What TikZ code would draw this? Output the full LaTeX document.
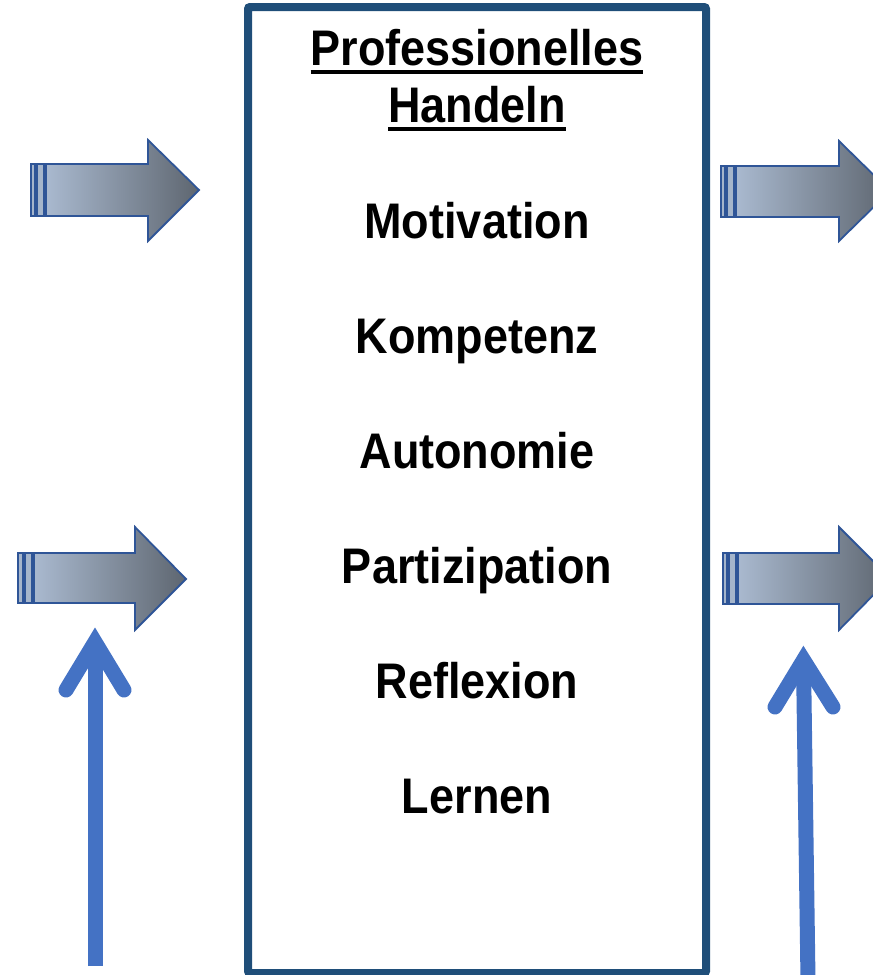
\documentclass[tikz,border=0pt]{standalone}
\usepackage{fontspec}
\newfontfamily\labelfont[FakeStretch=0.9]{Liberation Sans}
\definecolor{boxblue}{HTML}{1F4E79}
\definecolor{arrowblue}{HTML}{2F5597}
\definecolor{upblue}{HTML}{4472C4}
\definecolor{gradlight}{HTML}{A9B9CF}
\definecolor{graddark}{HTML}{5E6670}
\definecolor{stripefill}{HTML}{A5B5CB}
\newcommand\myul[1]{\setbox0\hbox{#1}\rlap{\rule[-9pt]{\wd0}{4pt}}\box0}
\tikzset{
  boxstyle/.style={draw=boxblue, line width=8pt, rounded corners=2pt, inner sep=0pt},
  lbl/.style={font=\labelfont\bfseries\fontsize{50}{57}\selectfont, anchor=base, inner sep=0pt},
  barrow/.style={draw=arrowblue, line width=1.8pt, line join=miter, left color=gradlight, right color=graddark},
  stripe/.style={draw=arrowblue, line width=1.5pt, fill=stripefill},
  upshaft/.style={draw=upblue, line width=15pt},
  uphead/.style={draw=upblue, line width=15pt, line cap=round, line join=miter}
}
\begin{document}
\begin{tikzpicture}[x=1pt,y=-1pt]
\useasboundingbox (0,0) rectangle (873,975);
% main box
\node[boxstyle, minimum width=458pt, minimum height=966pt] (box) at (477,490) {};
% texts
\node[lbl] (t1) at (477,65) {\myul{Professionelles}};
\node[lbl] (t2) at (477,122) {\myul{Handeln}};
\node[lbl] (m1) at (477,238) {Motivation};
\node[lbl] (m2) at (477,353) {Kompetenz};
\node[lbl] (m3) at (477,468) {Autonomie};
\node[lbl] (m4) at (477,583) {Partizipation};
\node[lbl] (m5) at (477,698) {Reflexion};
\node[lbl] (m6) at (477,813) {Lernen};
% block arrow left top
\draw[stripe] (31,164) rectangle (35,216);
\draw[stripe] (37,164) rectangle (44,216);
\draw[barrow] (46,164) -- (148,164) -- (148,140) -- (199,190) -- (148,241) -- (148,216) -- (46,216) -- cycle;
% block arrow right top
\draw[stripe] (721,166) rectangle (725,217);
\draw[stripe] (727,166) rectangle (734,217);
\draw[barrow] (736,166) -- (839,166) -- (839,141) -- (890,191) -- (839,241) -- (839,217) -- (736,217) -- cycle;
% block arrow left bottom
\draw[stripe] (18,553) rectangle (23,603);
\draw[stripe] (25,553) rectangle (32,603);
\draw[barrow] (34,553) -- (135,553) -- (135,527) -- (186,579) -- (135,630) -- (135,603) -- (34,603) -- cycle;
% block arrow right bottom
\draw[stripe] (723,553) rectangle (727,604);
\draw[stripe] (729,553) rectangle (736,604);
\draw[barrow] (738,553) -- (839,553) -- (839,527) -- (890,578) -- (839,630) -- (839,604) -- (738,604) -- cycle;
% blue up arrows
\coordinate (la0) at (95,966);
\coordinate (la1) at (95,642);
\draw[upshaft] (la0) -- (95,650);
\draw[uphead] (66,690) -- (la1) -- (124,690);
\coordinate (ra0) at (808,980);
\coordinate (ra1) at (803.5,660);
\draw[upshaft] (ra0) -- (803.6,668);
\draw[uphead] (775,707) -- (ra1) -- (833,707);
\end{tikzpicture}
\end{document}
